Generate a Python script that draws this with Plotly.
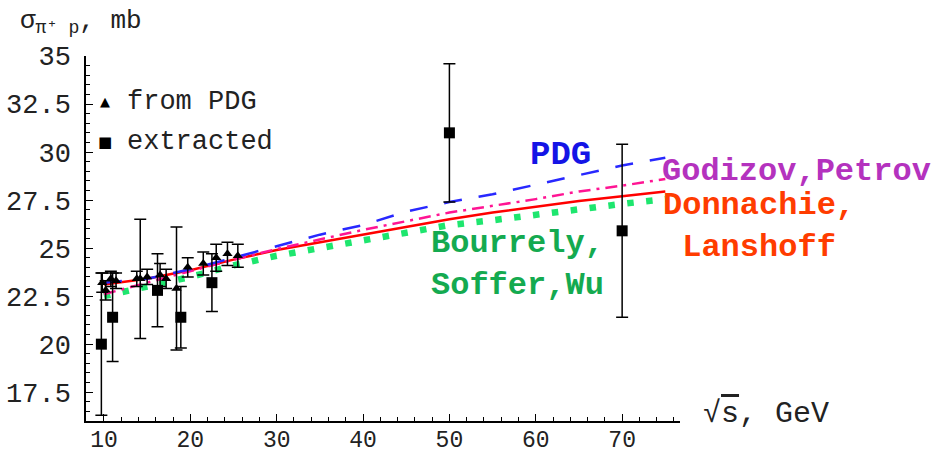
import plotly.graph_objects as go

# ---------------- data ----------------
# "from PDG" points (triangles)
pdg_x = [9.8, 10.2, 10.8, 11.4, 13.8, 14.2, 15.0, 16.5, 17.2, 18.4, 19.7, 21.5, 23.0, 24.3, 25.5]
pdg_y = [23.2, 22.8, 23.4, 23.3, 23.4, 23.4, 23.5, 23.6, 23.4, 22.9, 24.0, 24.2, 24.5, 24.7, 24.6]
pdg_err = [0.5, 0.5, 0.4, 0.4, 0.4, 3.1, 0.4, 0.6, 0.5, 3.2, 0.5, 0.6, 0.7, 0.6, 0.6]

# "extracted" points (squares)
ext_x = [9.7, 11.0, 16.2, 18.9, 22.5, 50.0, 70.0]
ext_y = [20.0, 21.4, 22.8, 21.4, 23.2, 31.0, 25.9]
ext_err = [3.7, 2.3, 1.9, 1.6, 1.5, 3.6, 4.5]

# model curves
curve_x = [10, 15, 20, 25, 30, 35, 40, 45, 50, 55, 60, 65, 70, 75]
pdg_fit = [23.2, 23.4, 23.9, 24.5, 25.1, 25.7, 26.2, 26.9, 27.4, 27.8, 28.3, 28.8, 29.3, 29.7]
godizov_petrov = [22.6, 23.2, 23.8, 24.4, 24.95, 25.45, 25.95, 26.4, 26.85, 27.2, 27.55, 27.95, 28.25, 28.6]
donnachie_landshoff = [23.1, 23.4, 23.85, 24.4, 24.9, 25.3, 25.7, 26.1, 26.5, 26.85, 27.15, 27.45, 27.7, 27.95]
bourrely_soffer_wu = [22.5, 23.0, 23.5, 24.1, 24.6, 25.0, 25.4, 25.8, 26.2, 26.45, 26.75, 27.05, 27.3, 27.55]

x_ticks = [10, 20, 30, 40, 50, 60, 70]
y_ticks = [17.5, 20, 22.5, 25, 27.5, 30, 32.5, 35]
y_ticktext = ["17.5", "20", "22.5", "25", "27.5", "30", "32.5", "35"]

# ---------------- figure ----------------
MONO = "Liberation Mono, Courier New, monospace"
fig = go.Figure()

fig.add_trace(go.Scatter(x=curve_x, y=bourrely_soffer_wu, mode="lines",
                         line=dict(color="#1EE66E", width=6.5, dash="6.5px,12.5px"),
                         showlegend=False))
fig.add_trace(go.Scatter(x=curve_x, y=donnachie_landshoff, mode="lines",
                         line=dict(color="#FF0000", width=2.5),
                         showlegend=False))
fig.add_trace(go.Scatter(x=curve_x, y=godizov_petrov, mode="lines",
                         line=dict(color="#FF1493", width=2.5, dash="12px,6px,3px,6px"),
                         showlegend=False))
fig.add_trace(go.Scatter(x=curve_x, y=pdg_fit, mode="lines",
                         line=dict(color="#2828FF", width=2.5, dash="18px,17px"),
                         showlegend=False))

fig.add_trace(go.Scatter(x=pdg_x, y=pdg_y, mode="markers",
                         marker=dict(symbol="triangle-up", size=9, color="black"),
                         error_y=dict(type="data", array=pdg_err, color="black",
                                      thickness=1.5, width=6),
                         showlegend=False))
fig.add_trace(go.Scatter(x=ext_x, y=ext_y, mode="markers",
                         marker=dict(symbol="square", size=11, color="black"),
                         error_y=dict(type="data", array=ext_err, color="black",
                                      thickness=1.5, width=6),
                         showlegend=False))

fig.update_layout(
    width=936, height=455,
    margin=dict(l=86, r=256, t=56, b=34),
    paper_bgcolor="white", plot_bgcolor="white",
    font=dict(family=MONO, color="#222222"),
    xaxis=dict(range=[7.92, 76.7], showgrid=False, zeroline=False, automargin=False,
               showline=True, linecolor="black", linewidth=1.5,
               ticks="inside", ticklen=7, tickwidth=1.2, tickcolor="black",
               tickvals=x_ticks, ticktext=[str(v) for v in x_ticks],
               tickfont=dict(family=MONO, size=23, color="#222222"),
               ticklabelstandoff=-3,
               minor=dict(dtick=2, tick0=0, ticks="inside", ticklen=4,
                          tickwidth=1, tickcolor="black")),
    yaxis=dict(range=[16.0, 35.0], showgrid=False, zeroline=False, automargin=False,
               showline=True, linecolor="black", linewidth=1.5,
               ticks="inside", ticklen=7, tickwidth=1.2, tickcolor="black",
               tickvals=y_ticks, ticktext=y_ticktext,
               tickfont=dict(family=MONO, size=27, color="#222222"),
               ticklabelstandoff=8,
               minor=dict(dtick=0.5, tick0=0, ticks="inside", ticklen=4,
                          tickwidth=1, tickcolor="black")),
)

ann = []
# axis titles
ann.append(dict(xref="paper", yref="paper", x=-0.115, y=1.093, xanchor="left", yanchor="middle",
                text="σ<sub>π⁺ p</sub>, mb", showarrow=False,
                font=dict(family=MONO, size=26, color="#222222")))
ann.append(dict(xref="paper", yref="paper", x=1.035, y=0.02, xanchor="left", yanchor="middle",
                text="√<span style='text-decoration:overline'>s</span>, GeV", showarrow=False,
                font=dict(family=MONO, size=30, color="#222222")))
# legend
ann.append(dict(xref="paper", yref="paper", x=0.032, y=0.874, xanchor="center", yanchor="middle",
                text="▲", showarrow=False, font=dict(family="DejaVu Sans", size=13, color="black")))
ann.append(dict(xref="paper", yref="paper", x=0.066, y=0.874, xanchor="left", yanchor="middle",
                text="from PDG", showarrow=False, font=dict(family=MONO, size=27, color="#222222")))
ann.append(dict(xref="paper", yref="paper", x=0.032, y=0.764, xanchor="center", yanchor="middle",
                text="■", showarrow=False, font=dict(family="DejaVu Sans", size=15, color="black")))
ann.append(dict(xref="paper", yref="paper", x=0.066, y=0.764, xanchor="left", yanchor="middle",
                text="extracted", showarrow=False, font=dict(family=MONO, size=27, color="#222222")))
# model labels
ann.append(dict(x=62.9, y=29.85, xanchor="center", yanchor="middle", text="<b>PDG</b>",
                showarrow=False, font=dict(family=MONO, size=34, color="#1414E6")))
ann.append(dict(xref="paper", x=0.966, y=29.0, xanchor="left", yanchor="middle",
                text="<b>Godizov,Petrov</b>", showarrow=False,
                font=dict(family=MONO, size=32, color="#B432BE")))
ann.append(dict(xref="paper", x=1.133, y=26.15, xanchor="center", yanchor="middle",
                text="<b>Donnachie,<br>Lanshoff</b>", showarrow=False, align="center",
                font=dict(family=MONO, size=32, color="#FF3C00")))
ann.append(dict(x=47.6, y=24.17, xanchor="left", yanchor="middle",
                text="<b>Bourrely,<br>Soffer,Wu</b>", showarrow=False, align="left",
                font=dict(family=MONO, size=32, color="#14AA50")))
fig.update_layout(annotations=ann)

fig.write_html("out.html")
